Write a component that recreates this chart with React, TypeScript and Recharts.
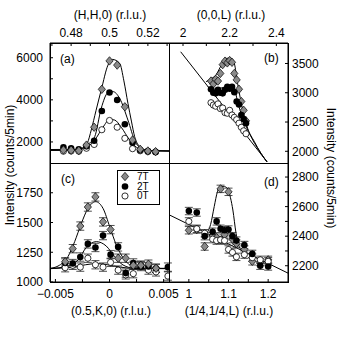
import React from "react";
import { ComposedChart, Line, Scatter, XAxis, YAxis, ErrorBar } from "recharts";

// (a) scan along (H,H,0)
const hA = [0.476, 0.48, 0.484, 0.488, 0.492, 0.496, 0.5, 0.504, 0.508, 0.512, 0.516, 0.52, 0.524];
const a7T = [1620, 1610, 1590, 1850, 2700, 4500, 5850, 5650, 3670, 2090, 1650, 1570, 1540];
const a2T = [1740, 1700, 1650, 1800, 2060, 3470, 4350, 3990, 2840, 1960, 1620, 1570, 1520];
const a0T = [1560, 1570, 1560, 1700, 1880, 2580, 3020, 2700, 2170, 1680, 1580, 1540, 1530];
const fitA7 = [[0.469, 1600], [0.482, 1610], [0.486, 1700], [0.4885, 1950], [0.4905, 2570], [0.493, 3500], [0.4957, 4470], [0.4992, 5650], [0.5015, 5920], [0.5053, 5735], [0.5075, 4900], [0.5096, 3835], [0.5115, 2950], [0.5131, 2250], [0.5157, 1775], [0.518, 1620], [0.522, 1580], [0.531, 1570]];
const fitA2 = [[0.469, 1640], [0.482, 1650], [0.486, 1720], [0.489, 1900], [0.4923, 2250], [0.4957, 3600], [0.4992, 4340], [0.5018, 4390], [0.5053, 4070], [0.5096, 3040], [0.5134, 2010], [0.516, 1720], [0.52, 1600], [0.531, 1570]];
const fitA0 = [[0.469, 1600], [0.482, 1610], [0.487, 1700], [0.4923, 2090], [0.4966, 2700], [0.5001, 3070], [0.5027, 3040], [0.5061, 2700], [0.5105, 2090], [0.514, 1750], [0.518, 1610], [0.531, 1570]];

// (b) scan along (0,0,L)
const lB = [2.12, 2.13, 2.14, 2.15, 2.16, 2.17, 2.18, 2.19, 2.2, 2.21, 2.22, 2.23, 2.24, 2.25, 2.26, 2.27];
const b7T = [3200, 3150, 3230, 3200, 3330, 3480, 3540, 3510, 3550, 3520, 3330, 3220, 3060, 2850, 2700, 2520];
const b2T = [3060, 3000, 2990, 3050, 3000, 2990, 3050, 3100, 3070, 3100, 3010, 2850, 2800, 2620, 2550, 2480];
const b0T = [2830, 2790, 2770, 2810, 2730, 2740, 2660, 2650, 2700, 2620, 2580, 2540, 2480, 2410, 2350, 2300];
const bgB = [[1.99, 3700], [2.36, 1820]];
const fitB7 = [[2.099, 3189], [2.12, 3240], [2.141, 3303], [2.16, 3440], [2.177, 3560], [2.19, 3590], [2.206, 3590], [2.22, 3500], [2.234, 3160], [2.245, 2920], [2.256, 2705], [2.277, 2393], [2.306, 2164], [2.334, 1966], [2.36, 1820]];
const fitB2 = [[2.106, 3103], [2.13, 3060], [2.156, 3076], [2.185, 3095], [2.213, 3103], [2.225, 3000], [2.234, 2847], [2.263, 2505], [2.299, 2193], [2.334, 1966], [2.36, 1820]];

// (c) scan along (0.5,K,0)
const kC = [-0.0041, -0.0034, -0.0027, -0.002, -0.0013, -0.0006, 0.0001, 0.0008, 0.0015, 0.0022, 0.0029, 0.0036, 0.0043];
const kC2 = [-0.0041, -0.0034, -0.0027, -0.002, -0.0013, -0.0006, 0.0001, 0.0008, 0.0015, 0.0022, 0.0029, 0.0036, 0.0043, 0.0054];
const c7T = [1170, 1280, 1470, 1630, 1715, 1505, 1440, 1200, 1200, 1140, 1140, 1150, 1115];
const c2T = [1160, 1155, 1210, 1320, 1290, 1390, 1230, 1295, 1075, 1160, 1130, 1130, 1115, 1125];
const c0T = [1120, 1140, 1125, 1200, 1145, 1125, 1165, 1100, 1060, 1070, 1140, 1100, 1085, 1050];
const fitC7 = [[-0.0055, 1115], [-0.00476, 1134], [-0.00384, 1213], [-0.00322, 1339], [-0.0026, 1493], [-0.00199, 1619], [-0.00128, 1675], [-0.0006, 1619], [0.00002, 1465], [0.00063, 1311], [0.0014, 1185], [0.00233, 1129], [0.00356, 1115], [0.0055, 1115]];
const fitC2 = [[-0.0055, 1113], [-0.00384, 1134], [-0.00291, 1185], [-0.00214, 1291], [-0.00122, 1339], [-0.0003, 1302], [0.00048, 1213], [0.00125, 1143], [0.00233, 1115], [0.0055, 1113]];
const fitC0 = [[-0.0055, 1112], [-0.0035, 1125], [-0.0022, 1145], [-0.0012, 1155], [-0.0002, 1145], [0.001, 1125], [0.0025, 1113], [0.0055, 1112]];
const errC = 35;

// (d) scan along (1/4,1/4,L)
const lD = [1.0, 1.02, 1.04, 1.06, 1.07, 1.08, 1.09, 1.1, 1.11, 1.12, 1.14, 1.16, 1.18, 1.2];
const d7T = [2440, 2445, 2330, 2400, 2390, 2720, 2410, 2700, 2380, 2350, 2310, 2230, 2225, 2240];
const d2T = [2570, 2560, 2400, 2430, 2500, 2450, 2440, 2445, 2400, 2370, 2340, 2280, 2200, 2195];
const d0T = [2500, 2450, 2420, 2380, 2370, 2375, 2370, 2310, 2290, 2260, 2275, 2255, 2240, 2230];
const bgD = [[0.95, 2545], [1.25, 2150]];
const fitD7 = [[1.045, 2420], [1.055, 2480], [1.064, 2600], [1.072, 2700], [1.08, 2735], [1.09, 2735], [1.098, 2720], [1.105, 2660], [1.111, 2577], [1.119, 2420], [1.127, 2330], [1.135, 2300]];
const errD = 25;

type Pt = { x: number; y: number; err?: number };

const toPts = (xs: number[], ys: number[], err?: number): Pt[] =>
  ys.map((y, i) => ({ x: xs[i], y, err }));
const toLine = (pairs: number[][]): Pt[] => pairs.map(([x, y]) => ({ x, y }));

const fmt = (v: number) => (v < 0 ? "\u2212" + String(-v) : String(v));

const FONT = '"Liberation Sans", Arial, Helvetica, sans-serif';

const Diamond = (p: any) => {
  const { cx, cy } = p;
  if (cx == null || cy == null) return <g />;
  return (
    <path
      d={`M${cx},${cy - 4.2}L${cx + 3.6},${cy}L${cx},${cy + 4.2}L${cx - 3.6},${cy}Z`}
      fill="#8a8a8a"
      stroke="#000"
      strokeWidth={0.7}
    />
  );
};
const Dot = (p: any) =>
  p.cx == null ? <g /> : <circle cx={p.cx} cy={p.cy} r={3.3} fill="#000" />;
const Ring = (p: any) =>
  p.cx == null ? <g /> : <circle cx={p.cx} cy={p.cy} r={3.1} fill="#fff" stroke="#000" strokeWidth={0.8} />;

interface AxisSpec {
  domain: [number, number];
  ticks: number[];
  labels: number[];
}
interface Series {
  data: Pt[];
  shape: (p: any) => React.ReactElement;
  bars?: boolean;
}
interface PanelProps {
  left: number;
  top: number;
  plotH: number;
  xSide: "top" | "bottom";
  ySide: "left" | "right";
  xs: AxisSpec;
  ys: AxisSpec;
  curves: Pt[][];
  series: Series[];
}

function Panel({ left, top, plotH, xSide, ySide, xs, ys, curves, series }: PanelProps) {
  const xH = xSide === "top" ? 43 : 45;
  const W = 1 + 119 + 50;
  const H = 1 + plotH + xH;
  const margin = {
    top: xSide === "top" ? 0 : 1,
    bottom: xSide === "top" ? 1 : 0,
    left: ySide === "left" ? 0 : 1,
    right: ySide === "left" ? 1 : 0,
  };
  const lab = (s: AxisSpec) => (v: number) => (s.labels.includes(v) ? fmt(v) : "");
  const tickStyle = { fill: "#000", fontSize: 12 };
  const common = { allowDataOverflow: true, interval: 0 as const, tickSize: -3, stroke: "#000", type: "number" as const };
  return (
    <div style={{ position: "absolute", left, top }}>
      <ComposedChart width={W} height={H} margin={margin}>
        <XAxis
          {...common}
          xAxisId="m"
          dataKey="x"
          orientation={xSide}
          height={xH}
          domain={xs.domain}
          ticks={xs.ticks}
          tickMargin={xSide === "top" ? 9 : 10}
          tickFormatter={lab(xs)}
          tick={tickStyle}
        />
        <XAxis
          {...common}
          xAxisId="o"
          dataKey="x"
          orientation={xSide === "top" ? "bottom" : "top"}
          height={0}
          domain={xs.domain}
          ticks={xs.ticks}
          tickFormatter={() => ""}
        />
        <YAxis
          {...common}
          yAxisId="m"
          dataKey="y"
          orientation={ySide}
          width={50}
          domain={ys.domain}
          ticks={ys.ticks}
          tickMargin={ySide === "left" ? 10 : 7}
          tickFormatter={lab(ys)}
          tick={tickStyle}
        />
        <YAxis
          {...common}
          yAxisId="o"
          dataKey="y"
          orientation={ySide === "left" ? "right" : "left"}
          width={0}
          domain={ys.domain}
          ticks={ys.ticks}
          tickFormatter={() => ""}
        />
        {curves.map((c, i) => (
          <Line
            key={"c" + i}
            xAxisId="m"
            yAxisId="m"
            data={c}
            dataKey="y"
            type="monotone"
            dot={false}
            activeDot={false}
            stroke="#000"
            strokeWidth={1}
            isAnimationActive={false}
          />
        ))}
        {series.map((s, i) => (
          <Scatter
            key={"s" + i}
            xAxisId="m"
            yAxisId="m"
            data={s.data}
            dataKey="y"
            shape={s.shape}
            isAnimationActive={false}
          >
            {s.bars ? (
              <ErrorBar dataKey="err" direction="y" width={4} stroke="#222" strokeWidth={0.8} />
            ) : null}
          </Scatter>
        ))}
      </ComposedChart>
    </div>
  );
}

const txt: React.CSSProperties = {
  position: "absolute",
  fontSize: 12,
  lineHeight: "14px",
  whiteSpace: "nowrap",
  color: "#000",
};

export default function App() {
  return (
    <div
      style={{
        position: "absolute",
        left: 0,
        top: 0,
        width: 339,
        height: 341,
        background: "#fff",
        fontFamily: FONT,
        overflow: "hidden",
      }}
    >
      <style>{".recharts-surface{overflow:visible}"}</style>
      <Panel
        left={0}
        top={0}
        plotH={120}
        xSide="top"
        ySide="left"
        xs={{ domain: [0.469, 0.531], ticks: [0.47, 0.48, 0.49, 0.5, 0.51, 0.52, 0.53], labels: [0.48, 0.5, 0.52] }}
        ys={{ domain: [1000, 6700], ticks: [2000, 3000, 4000, 5000, 6000], labels: [2000, 4000, 6000] }}
        curves={[toLine(fitA7), toLine(fitA2), toLine(fitA0)]}
        series={[
          { data: toPts(hA, a0T), shape: Ring },
          { data: toPts(hA, a2T), shape: Dot },
          { data: toPts(hA, a7T), shape: Diamond },
        ]}
      />
      <Panel
        left={168}
        top={0}
        plotH={120}
        xSide="top"
        ySide="right"
        xs={{ domain: [1.94, 2.45], ticks: [2, 2.1, 2.2, 2.3, 2.4], labels: [2, 2.2, 2.4] }}
        ys={{ domain: [1800, 3850], ticks: [2000, 2500, 3000, 3500], labels: [2000, 2500, 3000, 3500] }}
        curves={[toLine(bgB), toLine(fitB7), toLine(fitB2)]}
        series={[
          { data: toPts(lB, b7T), shape: Diamond },
          { data: toPts(lB, b0T), shape: Ring },
          { data: toPts(lB, b2T), shape: Dot },
        ]}
      />
      <Panel
        left={0}
        top={162}
        plotH={119}
        xSide="bottom"
        ySide="left"
        xs={{ domain: [-0.0055, 0.0055], ticks: [-0.005, -0.0025, 0, 0.0025, 0.005], labels: [-0.005, 0, 0.005] }}
        ys={{ domain: [1000, 2000], ticks: [1000, 1250, 1500, 1750], labels: [1000, 1250, 1500, 1750] }}
        curves={[toLine(fitC7), toLine(fitC2), toLine(fitC0)]}
        series={[
          { data: toPts(kC2, c0T, errC), shape: Ring, bars: true },
          { data: toPts(kC2, c2T, errC), shape: Dot, bars: true },
          { data: toPts(kC, c7T, errC), shape: Diamond, bars: true },
        ]}
      />
      <Panel
        left={168}
        top={162}
        plotH={119}
        xSide="bottom"
        ySide="right"
        xs={{ domain: [0.95, 1.25], ticks: [1, 1.05, 1.1, 1.15, 1.2], labels: [1, 1.1, 1.2] }}
        ys={{ domain: [2090, 2895], ticks: [2200, 2300, 2400, 2500, 2600, 2700, 2800], labels: [2200, 2400, 2600, 2800] }}
        curves={[toLine(bgD), toLine(fitD7)]}
        series={[
          { data: toPts(lD, d7T, errD), shape: Diamond, bars: true },
          { data: toPts(lD, d0T, errD), shape: Ring, bars: true },
          { data: toPts(lD, d2T, errD), shape: Dot, bars: true },
        ]}
      />

      {/* panel frames */}
      <svg
        width={339}
        height={341}
        style={{ position: "absolute", left: 0, top: 0, pointerEvents: "none" }}
      >
        <g stroke="#000" strokeWidth={1.2} fill="none" shapeRendering="crispEdges">
          <rect x={50.5} y={43.5} width={238} height={239} />
          <line x1={169.5} y1={43.5} x2={169.5} y2={282.5} />
          <line x1={50.5} y1={163.5} x2={288.5} y2={163.5} />
        </g>
      </svg>

      {/* axis titles */}
      <div style={{ ...txt, left: 10, top: 8, width: 200, textAlign: "center" }}>(H,H,0) (r.l.u.)</div>
      <div style={{ ...txt, left: 131, top: 8, width: 200, textAlign: "center" }}>(0,0,L) (r.l.u.)</div>
      <div style={{ ...txt, left: 11, top: 304, width: 200, textAlign: "center" }}>(0.5,K,0) (r.l.u.)</div>
      <div style={{ ...txt, left: 129, top: 304, width: 200, textAlign: "center" }}>(1/4,1/4,L) (r.l.u.)</div>
      <div
        style={{ ...txt, left: -90, top: 158, width: 200, textAlign: "center", transform: "rotate(-90deg)" }}
      >
        Intensity (counts/5min)
      </div>
      <div
        style={{ ...txt, left: 231, top: 161, width: 200, textAlign: "center", transform: "rotate(90deg)" }}
      >
        Intensity (counts/5min)
      </div>

      {/* panel tags */}
      <div style={{ ...txt, left: 60, top: 52 }}>(a)</div>
      <div style={{ ...txt, left: 264, top: 51 }}>(b)</div>
      <div style={{ ...txt, left: 61, top: 172 }}>(c)</div>
      <div style={{ ...txt, left: 264, top: 175 }}>(d)</div>

      {/* legend in (c) */}
      <div
        style={{
          position: "absolute",
          left: 117,
          top: 170,
          width: 43,
          height: 35,
          border: "1px solid #000",
          boxSizing: "border-box",
          background: "#fff",
        }}
      >
        <svg width={41} height={33} style={{ position: "absolute", left: 0, top: 0 }}>
          <Diamond cx={7} cy={5.5} />
          <Dot cx={7} cy={15.5} />
          <Ring cx={7} cy={25} />
        </svg>
        <div style={{ ...txt, fontSize: 10, lineHeight: "10px", left: 19, top: 0.5 }}>7T</div>
        <div style={{ ...txt, fontSize: 10, lineHeight: "10px", left: 19, top: 10.5 }}>2T</div>
        <div style={{ ...txt, fontSize: 10, lineHeight: "10px", left: 19, top: 20 }}>0T</div>
      </div>
    </div>
  );
}
